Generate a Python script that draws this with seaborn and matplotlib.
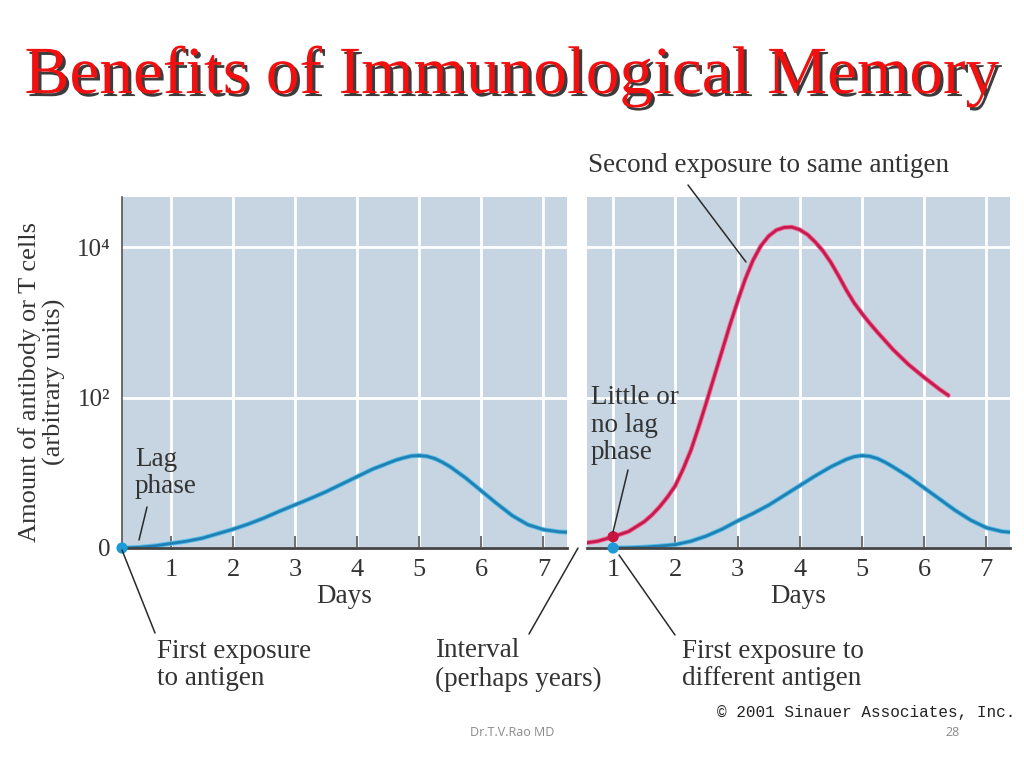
import numpy as np
import matplotlib
matplotlib.use("Agg")
import matplotlib.pyplot as plt
import matplotlib.patheffects as pe
from matplotlib.lines import Line2D
import seaborn as sns

# ---------------- data (amounts given as log10 units) -------------
primary_days = [0.21, 0.5, 0.75, 1.0, 1.25, 1.5, 1.75, 2.0, 2.25, 2.5, 2.75, 3.0, 3.25, 3.5,
                3.75, 4.0, 4.25, 4.5, 4.625, 4.75, 4.875, 5.0, 5.125, 5.25, 5.375, 5.5, 5.75,
                6.0, 6.25, 6.5, 6.75, 7.0, 7.25, 7.38]
primary_log = [0.0, 0.01, 0.03, 0.06, 0.09, 0.13, 0.19, 0.25, 0.32, 0.40, 0.49, 0.575, 0.66,
               0.75, 0.85, 0.95, 1.05, 1.13, 1.17, 1.20, 1.225, 1.23, 1.22, 1.19, 1.14, 1.08,
               0.93, 0.76, 0.59, 0.43, 0.31, 0.245, 0.215, 0.21]

other_days = [1.0, 1.25, 1.5, 1.75, 2.0, 2.25, 2.5, 2.75, 3.0, 3.25, 3.5, 3.75, 4.0, 4.25,
              4.5, 4.625, 4.75, 4.875, 5.0, 5.125, 5.25, 5.375, 5.5, 5.75, 6.0, 6.25, 6.5,
              6.75, 7.0, 7.25, 7.38]
other_log = [0.0, 0.004, 0.012, 0.026, 0.045, 0.09, 0.16, 0.25, 0.36, 0.46, 0.57, 0.70, 0.83,
             0.96, 1.08, 1.13, 1.18, 1.215, 1.23, 1.22, 1.19, 1.14, 1.08, 0.95, 0.80, 0.65,
             0.50, 0.37, 0.27, 0.22, 0.21]

second_days = [0.58, 0.75, 1.0, 1.25, 1.5, 1.625, 1.75, 1.875, 2.0, 2.125, 2.25, 2.375, 2.5,
               2.625, 2.75, 2.875, 3.0, 3.125, 3.25, 3.375, 3.5, 3.625, 3.75, 3.875, 4.0,
               4.125, 4.25, 4.375, 4.5, 4.625, 4.75, 4.875, 5.0, 5.125, 5.25, 5.5, 5.75, 6.0,
               6.25, 6.39]
second_log = [0.07, 0.09, 0.15, 0.22, 0.35, 0.44, 0.55, 0.68, 0.83, 1.05, 1.30, 1.61, 1.94,
              2.28, 2.62, 2.96, 3.28, 3.58, 3.83, 4.02, 4.15, 4.23, 4.265, 4.27, 4.235, 4.17,
              4.07, 3.95, 3.80, 3.62, 3.43, 3.26, 3.12, 2.99, 2.87, 2.64, 2.44, 2.27, 2.11,
              2.03]

day_ticks = [1, 2, 3, 4, 5, 6, 7]
y_ticks = [1, 100, 10000]
y_tick_labels = ["0", "10²", "10⁴"]

BG = "#c6d5e1"
BLUE = "#1f80b4"
BLUE_EDGE = "#5cbde9"
RED = "#c5194f"
RED_EDGE = "#ec6f94"
INK = "#333333"

sns.set_theme(style="white")
plt.rcParams["font.family"] = ["Liberation Serif", "DejaVu Serif"]

W, H = 1024, 768
fig = plt.figure(figsize=(10.24, 7.68), dpi=100)
fig.patch.set_facecolor("white")


def fx(px):
    return px / W


def fy(py):
    return 1 - py / H


ax1 = fig.add_axes([fx(122), fy(548), fx(567) - fx(122), fy(197) - fy(548)])
ax2 = fig.add_axes([fx(587), fy(548), fx(1010) - fx(587), fy(197) - fy(548)])


def style(ax, xlim, show_left):
    ax.set_facecolor(BG)
    ax.set_yscale("log")
    ax.set_ylim(1, 10 ** 4.67)
    ax.set_xlim(*xlim)
    ax.set_xticks(day_ticks)
    ax.set_xticklabels([str(d) for d in day_ticks])
    ax.set_yticks(y_ticks)
    ax.yaxis.set_minor_locator(matplotlib.ticker.NullLocator())
    if show_left:
        ax.set_yticklabels(y_tick_labels)
    else:
        ax.set_yticklabels([])
    ax.grid(True, color="white", linewidth=2.0)
    ax.set_axisbelow(True)
    ax.tick_params(axis="x", direction="in", length=9, width=1.2, color="#555555",
                   pad=8, labelsize=19, labelcolor=INK, bottom=True)
    ax.tick_params(axis="y", length=0, pad=8, labelsize=18, labelcolor=INK)
    for s in ["top", "right"]:
        ax.spines[s].set_visible(False)
    ax.spines["bottom"].set_color("#444444")
    ax.spines["bottom"].set_linewidth(2.0)
    if show_left:
        ax.spines["left"].set_color("#555555")
        ax.spines["left"].set_linewidth(1.2)
    else:
        ax.spines["left"].set_visible(False)
    ax.set_xlabel("Days", fontsize=19.5, color=INK, labelpad=2)
    ax.set_ylabel("")


def curve(ax, days, logs, color, edge):
    sns.lineplot(x=days, y=10 ** np.array(logs), ax=ax, color=color, linewidth=2.0,
                 estimator=None, sort=False)
    ln = ax.lines[-1]
    ln.set_path_effects([pe.Stroke(linewidth=3.4, foreground=edge), pe.Normal()])
    ln.set_solid_joinstyle("round")


style(ax1, (0.21, 7.38), True)
style(ax2, (0.58, 7.38), False)

curve(ax1, primary_days, primary_log, BLUE, BLUE_EDGE)
curve(ax2, other_days, other_log, BLUE, BLUE_EDGE)
curve(ax2, second_days, second_log, RED, RED_EDGE)

# exposure points
sns.scatterplot(x=[primary_days[0]], y=[10 ** primary_log[0]], ax=ax1, color="#1e9ad6",
                s=65, edgecolor="none", zorder=5)
for c in ax1.collections:
    c.set_clip_on(False)
sns.scatterplot(x=[second_days[2]], y=[10 ** second_log[2]], ax=ax2, color="#c8143f", s=65,
                edgecolor="none", zorder=5)
sns.scatterplot(x=[other_days[0]], y=[10 ** other_log[0]], ax=ax2, color="#1e9ad6", s=65,
                edgecolor="none", zorder=6)
for c in ax2.collections:
    c.set_clip_on(False)

# title
fig.text(0.5, fy(76), "Benefits of Immunological Memory", ha="center", va="center",
         fontsize=48.5, color="#f01010",
         path_effects=[pe.withSimplePatchShadow(offset=(2.2, -2.2), shadow_rgbFace="#1a1a1a",
                                                alpha=0.85)])

# y label
fig.text(fx(42), fy(382), "Amount of antibody or T cells\n(arbitrary units)", rotation=90,
         ha="center", va="center", fontsize=19, color=INK, linespacing=1.08,
         multialignment="center")

# annotations
ann = dict(fontsize=19.5, color=INK, linespacing=1.15)
fig.text(fx(135), fy(473), "Lag\nphase", ha="left", va="center", **ann)
fig.text(fx(591), fy(425), "Little or\nno lag\nphase", ha="left", va="center", **ann)
fig.text(fx(588), fy(166), "Second exposure to same antigen", ha="left", va="center", **ann)
fig.text(fx(157), fy(665), "First exposure\nto antigen", ha="left", va="center", **ann)
fig.text(fx(435), fy(665), "Interval\n(perhaps years)", ha="left", va="center", **ann)
fig.text(fx(682), fy(665), "First exposure to\ndifferent antigen", ha="left", va="center",
         **ann)

segments = [
    ((147, 507), (139, 540)),
    ((628, 470), (613, 532)),
    ((688, 185), (746, 262)),
    ((122, 550), (155, 633)),
    ((578, 548), (529, 634)),
    ((619, 555), (675, 635)),
]
for (x0, y0), (x1, y1) in segments:
    fig.add_artist(Line2D([fx(x0), fx(x1)], [fy(y0), fy(y1)], transform=fig.transFigure,
                          color="#2a2a2a", linewidth=1.1))

fig.text(fx(1015), fy(713), "© 2001 Sinauer Associates, Inc.", ha="right", va="center",
         fontsize=11.5, color="#222222", family=["Liberation Mono", "DejaVu Sans Mono"])
fig.text(fx(512), fy(733), "Dr.T.V.Rao MD", ha="center", va="center", fontsize=9,
         color="#8a8a8a", family=["Open Sans", "DejaVu Sans"])
fig.text(fx(953), fy(733), "28", ha="center", va="center", fontsize=9, color="#8a8a8a",
         family=["Open Sans", "DejaVu Sans"])

fig.savefig("out.png", dpi=100)
